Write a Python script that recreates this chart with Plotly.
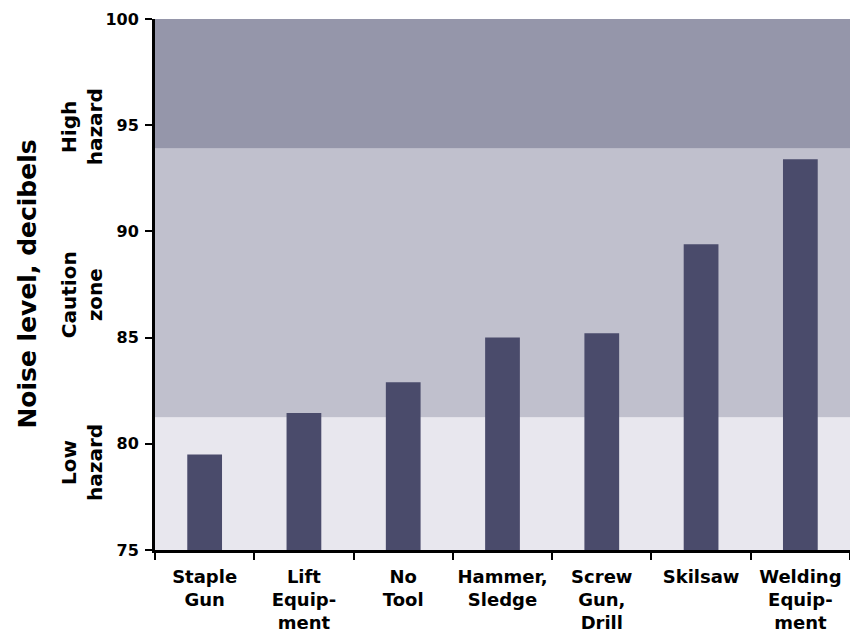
import plotly.graph_objects as go

categories = ["Staple<br>Gun", "Lift<br>Equip-<br>ment", "No<br>Tool", "Hammer,<br>Sledge",
              "Screw<br>Gun,<br>Drill", "Skilsaw", "Welding<br>Equip-<br>ment"]
values = [79.5, 81.45, 82.9, 85.0, 85.2, 89.4, 93.4]
zone_bounds = [75, 81.25, 93.9, 100]
zone_colors = ["#E8E7EE", "#C0C0CD", "#9596AA"]
zone_labels = ["Low<br>hazard", "Caution<br>zone", "High<br>hazard"]
zone_label_y = [79.1, 87.0, 94.9]
y_ticks = [75, 80, 85, 90, 95, 100]

FONT = "DejaVu Sans"
fig = go.Figure()
fig.add_trace(go.Bar(x=categories, y=values, marker=dict(color="#4A4B6B", line=dict(width=0)),
                     width=0.35))

for i in range(3):
    fig.add_shape(type="rect", xref="paper", yref="y", x0=0, x1=1,
                  y0=zone_bounds[i], y1=zone_bounds[i + 1],
                  fillcolor=zone_colors[i], line=dict(width=0), layer="below")
    fig.add_annotation(xref="paper", yref="y", x=-0.105, y=zone_label_y[i],
                       text=zone_labels[i], textangle=-90, showarrow=False,
                       font=dict(family=FONT, size=20, color="black", weight="bold"),
                       xanchor="center", yanchor="middle")

fig.add_annotation(xref="paper", yref="y", x=-0.184, y=87.5, text="Noise level, decibels",
                   textangle=-90, showarrow=False,
                   font=dict(family=FONT, size=25, color="black", weight="bold"),
                   xanchor="center", yanchor="middle")

fig.update_layout(
    width=842, height=630,
    margin=dict(l=147, r=0, t=11, b=88, autoexpand=False),
    paper_bgcolor="white", plot_bgcolor="white",
    showlegend=False,
    font=dict(family=FONT, color="black"),
    xaxis=dict(showline=True, linecolor="black", linewidth=3, ticks="outside",
               tickson="boundaries", ticklen=7, tickwidth=2, tickcolor="black",
               showgrid=False, ticklabelstandoff=8, tickangle=0, automargin=False,
               tickfont=dict(family=FONT, size=18, color="black", weight="bold"),
               range=[-0.5, 6.5]),
    yaxis=dict(range=[75, 100], tickvals=y_ticks, showline=True, linecolor="black",
               linewidth=3, ticks="outside", ticklen=7, tickwidth=2, tickcolor="black",
               showgrid=False, zeroline=False, ticklabelstandoff=3, automargin=False,
               tickfont=dict(family=FONT, size=16, color="black", weight="bold")),
)

fig.write_html("out.html")
